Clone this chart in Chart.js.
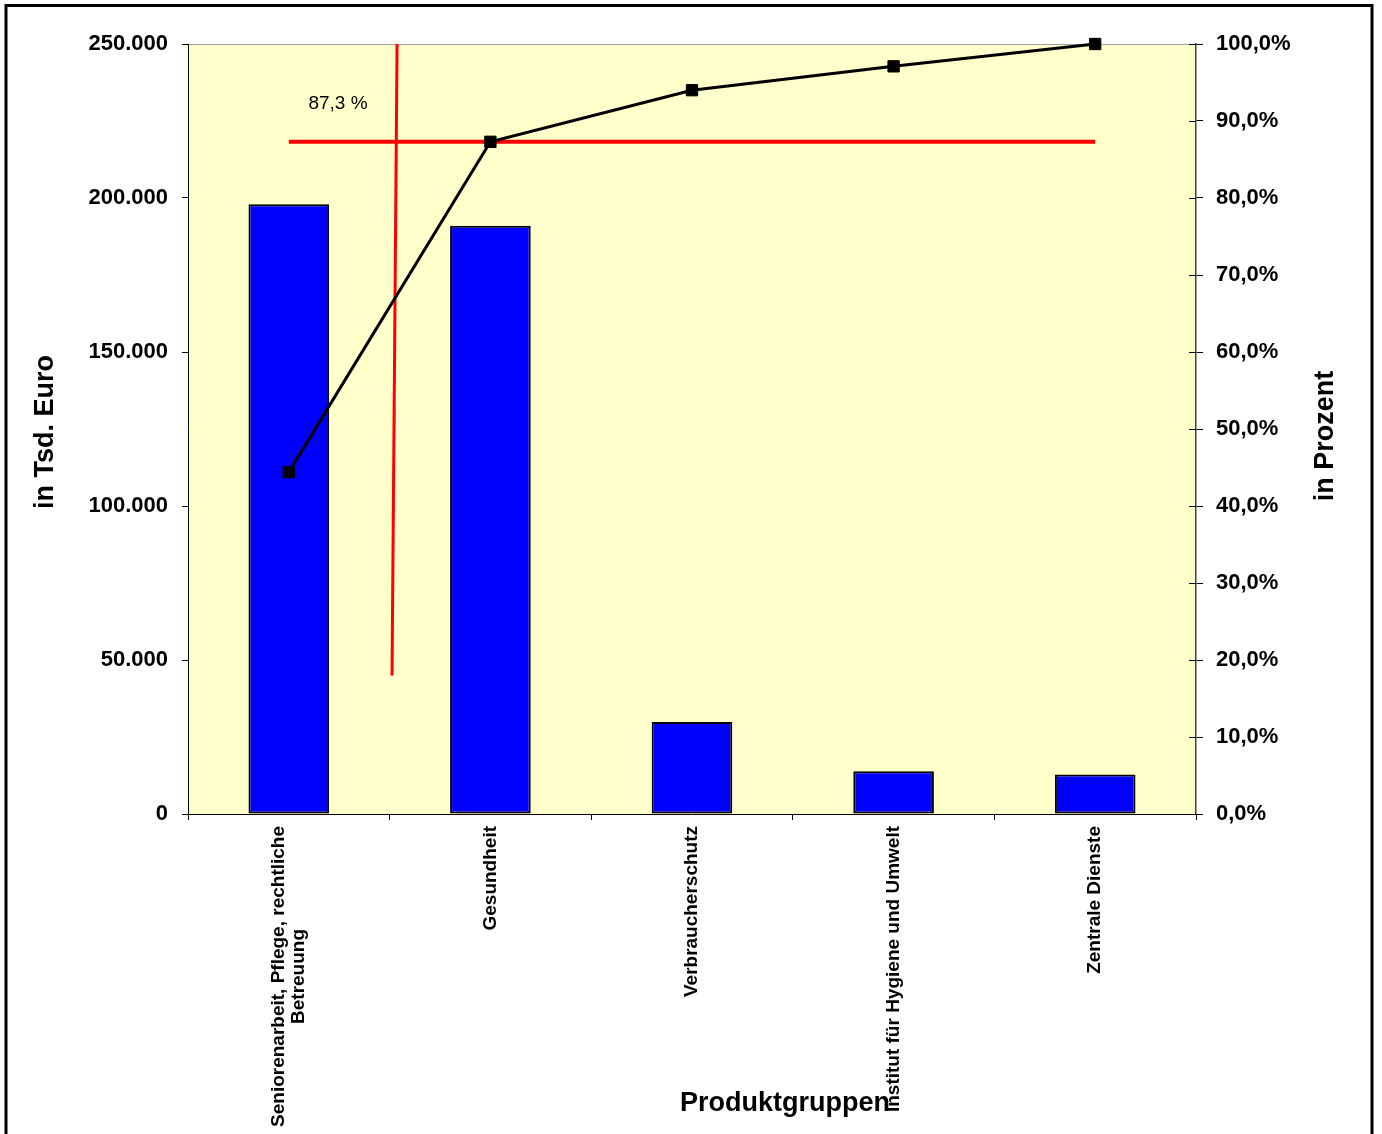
<!DOCTYPE html>
<html lang="de">
<head>
<meta charset="utf-8">
<title>Produktgruppen</title>
<script src="https://cdn.jsdelivr.net/npm/chart.js@4.4.1/dist/chart.umd.min.js"></script>
<style>
  html, body { margin: 0; padding: 0; background: #fff; }
  canvas { display: block; }
</style>
</head>
<body>
<canvas id="c" width="1382" height="1134"></canvas>
<script>
// ---- data ----
const categories = [
  ['Seniorenarbeit, Pflege, rechtliche', 'Betreuung'],
  'Gesundheit',
  'Verbraucherschutz',
  'Institut für Hygiene und Umwelt',
  'Zentrale Dienste'
];
const amounts = [198000, 191000, 29900, 13900, 12800];       // in Tsd. Euro
const cumulativePct = [44.4, 87.3, 94.0, 97.1, 100.0];        // kumuliert, in Prozent
const thresholdPct = 87.3;                                    // Schwelle
const cutoffLine = [{ x: 0.537, y: 250000 }, { x: 0.512, y: 45000 }];
const thresholdLabelPos = { x: 0.244, y: 91.6 };
const titleLeft = 'in Tsd. Euro';
const titleRight = 'in Prozent';
const titleBottom = 'Produktgruppen';

const FONT = '"Liberation Sans", Arial, Helvetica, sans-serif';
const fmtThousands = v => String(v).replace(/\B(?=(\d{3})+(?!\d))/g, '.');
const fmtPct = v => v.toFixed(1).replace('.', ',') + '%';

// ---- drawing helpers (background, frame, titles, category labels) ----
const decor = {
  id: 'decor',
  beforeDraw(chart) {
    const { ctx, chartArea: a } = chart;
    ctx.save();
    ctx.fillStyle = '#ffffff';
    ctx.fillRect(0, 0, chart.width, chart.height);
    ctx.fillStyle = '#FFFFCC';
    ctx.fillRect(a.left, a.top, a.right - a.left, a.bottom - a.top);
    ctx.strokeStyle = '#A0A0A0';
    ctx.lineWidth = 1;
    ctx.beginPath();
    ctx.moveTo(a.left, a.top + 0.5);
    ctx.lineTo(a.right, a.top + 0.5);
    ctx.stroke();
    ctx.restore();
  },
  afterDraw(chart) {
    const { ctx, chartArea: a, scales } = chart;
    ctx.save();

    // inner half of the right-axis tick marks
    const y1 = scales.y1;
    ctx.strokeStyle = '#000';
    ctx.lineWidth = 1;
    y1.ticks.forEach(t => {
      const p = Math.round(y1.getPixelForValue(t.value)) + 0.5;
      ctx.beginPath();
      ctx.moveTo(a.right - 7, p);
      ctx.lineTo(a.right, p);
      ctx.stroke();
    });

    // category labels, rotated, reading upward
    const xs = scales.x;
    ctx.fillStyle = '#000';
    ctx.font = 'bold 19px ' + FONT;
    ctx.textAlign = 'center';
    ctx.textBaseline = 'middle';
    const lh = 20;
    categories.forEach((lab, i) => {
      const lines = Array.isArray(lab) ? lab : [lab];
      const w = Math.max(...lines.map(l => ctx.measureText(l).width));
      const px = xs.getPixelForTick(i);
      ctx.save();
      ctx.translate(px, a.bottom + 12);
      ctx.rotate(-Math.PI / 2);
      lines.forEach((l, j) => {
        ctx.fillText(l, -w / 2, (j - (lines.length - 1) / 2) * lh);
      });
      ctx.restore();
    });

    // axis titles
    ctx.font = 'bold 27px ' + FONT;
    ctx.textBaseline = 'alphabetic';
    ctx.textAlign = 'center';
    ctx.save();
    ctx.translate(53, 432);
    ctx.rotate(-Math.PI / 2);
    ctx.fillText(titleLeft, 0, 0);
    ctx.restore();
    ctx.save();
    ctx.translate(1333, 436);
    ctx.rotate(-Math.PI / 2);
    ctx.fillText(titleRight, 0, 0);
    ctx.restore();
    ctx.fillText(titleBottom, 785, 1111);

    // threshold label
    ctx.font = '19px ' + FONT;
    ctx.fillText(
      thresholdPct.toFixed(1).replace('.', ',') + ' %',
      scales.xl.getPixelForValue(thresholdLabelPos.x),
      y1.getPixelForValue(thresholdLabelPos.y)
    );

    // outer frame
    ctx.strokeStyle = '#000';
    ctx.lineWidth = 3;
    ctx.strokeRect(6, 5.5, 1366, 1200);
    ctx.restore();
  }
};

new Chart(document.getElementById('c'), {
  type: 'bar',
  data: {
    labels: categories,
    datasets: [
      {
        type: 'line',
        label: 'kumuliert',
        data: cumulativePct,
        xAxisID: 'x',
        yAxisID: 'y1',
        borderColor: '#000',
        borderWidth: 3,
        tension: 0,
        clip: false,
        pointStyle: 'rect',
        pointRadius: 8,
        pointBackgroundColor: '#000',
        pointBorderColor: '#000',
        pointBorderWidth: 1,
        order: 0
      },
      {
        type: 'line',
        label: 'Schwelle',
        data: [{ x: 0, y: thresholdPct }, { x: categories.length - 1, y: thresholdPct }],
        xAxisID: 'xl',
        yAxisID: 'y1',
        borderColor: '#FF0000',
        borderWidth: 4,
        pointRadius: 0,
        order: 1
      },
      {
        type: 'line',
        label: 'Trennlinie',
        data: cutoffLine,
        xAxisID: 'xl',
        yAxisID: 'y',
        borderColor: '#FF0000',
        borderWidth: 3,
        pointRadius: 0,
        order: 1
      },
      {
        type: 'bar',
        label: 'Betrag',
        data: amounts,
        xAxisID: 'x',
        yAxisID: 'y',
        backgroundColor: '#0000FF',
        borderColor: '#000',
        borderWidth: 2,
        borderSkipped: false,
        grouped: false,
        barPercentage: 0.4,
        categoryPercentage: 1,
        order: 2
      }
    ]
  },
  options: {
    responsive: false,
    animation: false,
    events: [],
    layout: { padding: { top: 44, left: 0, right: 0, bottom: 0 } },
    plugins: { legend: { display: false }, tooltip: { enabled: false } },
    scales: {
      x: {
        type: 'category',
        offset: true,
        grid: { offset: true, drawOnChartArea: false, tickLength: 6, color: '#000', lineWidth: 1 },
        border: { color: '#000', width: 1 },
        ticks: { display: false },
        afterFit: s => { s.height = 320; }
      },
      xl: {
        type: 'linear',
        display: false,
        offset: false,
        grid: { offset: false },
        min: -0.5,
        max: categories.length - 0.5
      },
      y: {
        position: 'left',
        min: 0,
        max: 250000,
        ticks: {
          stepSize: 50000,
          padding: 14,
          color: '#000',
          font: { family: FONT, size: 22, weight: 'bold' },
          callback: v => fmtThousands(v)
        },
        grid: { drawOnChartArea: false, tickLength: 6, color: '#000' },
        border: { color: '#000', width: 1 },
        afterFit: s => { s.width = 188; }
      },
      y1: {
        position: 'right',
        min: 0,
        max: 100,
        ticks: {
          stepSize: 10,
          padding: 13,
          color: '#000',
          font: { family: FONT, size: 22, weight: 'bold' },
          callback: v => fmtPct(v)
        },
        grid: { drawOnChartArea: false, tickLength: 7, color: '#000' },
        border: { color: '#404040', width: 1.5 },
        afterFit: s => { s.width = 186; }
      }
    }
  },
  plugins: [decor]
});
</script>
</body>
</html>
